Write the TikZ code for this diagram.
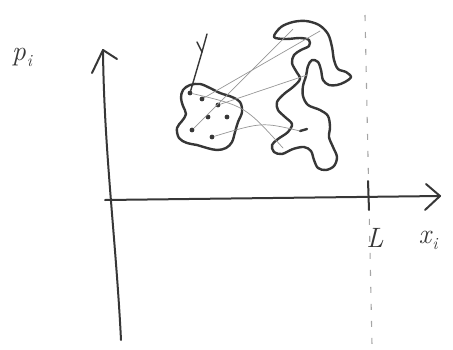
\documentclass[tikz,border=0pt]{standalone}
\usepackage{fontspec}
\definecolor{inkc}{RGB}{55,55,55}
\definecolor{trajc}{RGB}{150,150,150}
\definecolor{dashc}{RGB}{165,165,165}
\newcommand{\subidx}[1]{\raisebox{-6pt}{\fontsize{17}{17}\selectfont #1}}
\begin{document}
\begin{tikzpicture}[x=1pt,y=-1pt,
  ink/.style={draw=inkc, line width=2.4pt, line cap=round, line join=round},
  axisline/.style={draw=inkc, line width=2pt, line cap=round, line join=round},
  traj/.style={draw=trajc, line width=0.7pt, line cap=round},
  dotn/.style={circle, fill=inkc, inner sep=0pt, minimum size=4.8pt},
  lbl/.style={text=inkc, inner sep=0pt, font=\fontsize{28}{28}\selectfont\itshape},
]
\useasboundingbox (0,0) rectangle (453,349);

% dashed line at L
\coordinate (dl0) at (365,15);
\coordinate (dl1) at (372,345);
\draw[dashc, line width=1.1pt, dash pattern=on 6pt off 11pt] (dl0) -- (dl1);

% axes
\coordinate (v0) at (121,340);
\coordinate (v1) at (103,50);
\coordinate (vb1) at (92,73);
\coordinate (vb2) at (117,59);
\draw[axisline] (v0) .. controls (116,240) and (104,150) .. (v1);
\draw[axisline] (vb1) -- (v1) -- (vb2);

\coordinate (h0) at (105,200);
\coordinate (h1) at (440,196);
\coordinate (hb1) at (426,184);
\coordinate (hb2) at (425,210);
\draw[axisline] (h0) -- (h1);
\draw[axisline] (hb1) -- (h1) -- (hb2);

\coordinate (t0) at (368,181);
\coordinate (t1) at (369,210);
\draw[axisline] (t0) -- (t1);

% labels
\node[lbl] (pl) at (22,57) {p\kern1pt\subidx{i}};
\node[lbl] (ll) at (375,238) {L};
\node[lbl] (xl) at (428,240) {x\kern1pt\subidx{i}};

% small blob
\draw[ink] plot[smooth cycle, tension=0.6] coordinates {
  (183,90) (190,85) (200,84) (210,88) (220,93) (232,97) (240,102)
  (242,112) (238,122) (235,132) (232,142) (226,148) (217,150)
  (207,148) (197,145) (187,143) (179,138) (177,128) (182,121)
  (186,114) (183,106) (181,98)};

% large stretched blob
\draw[ink] plot[smooth cycle, tension=0.55] coordinates {
  (274,37) (281,27) (293,22) (306,21) (319,25) (328,34) (332,47)
  (334,60) (338,69) (346,72) (351,77) (345,82) (337,85) (329,85)
  (323,80) (321,70) (318,62) (312,60) (308,66) (306,76) (303,86)
  (303,96) (308,105) (320,110) (328,116) (330,127) (329,137)
  (333,147) (337,157) (334,166) (326,170) (318,168) (314,160)
  (311,151) (304,147) (293,149) (282,154) (274,152) (272,145)
  (278,139) (288,132) (292,124) (285,117) (278,110) (277,102)
  (284,94) (293,87) (300,79) (296,71) (292,63) (294,55) (301,50)
  (309,46) (309,40) (300,38) (286,39)};

% points in the small blob
\node[dotn] (d1) at (190,93) {};
\node[dotn] (d2) at (202,99) {};
\node[dotn] (d3) at (218,105) {};
\node[dotn] (d4) at (208,117) {};
\node[dotn] (d5) at (227,117) {};
\node[dotn] (d6) at (192,130) {};
\node[dotn] (d7) at (212,137) {};

% image point in the large blob
\coordinate (m0) at (300,131);
\coordinate (m1) at (307,129);
\draw[ink] (m0) -- (m1);

% trajectories
\coordinate (e1) at (320,31);
\coordinate (e2) at (293,29);
\coordinate (e3) at (307,75);
\coordinate (e4) at (283,148);
\draw[traj] (d2) -- (e1);
\draw[traj] (d6) -- (e2);
\draw[traj] (d3) -- (e3);
\draw[traj] (d1) .. controls (245,106) .. (e4);
\draw[traj] (d7) .. controls (262,122) .. (m0);

% arrow above the small blob
\coordinate (a0) at (202,52);
\coordinate (ab1) at (197,42);
\coordinate (ab2) at (207,34);
\draw[ink, line width=1.4pt] (d1) -- (a0);
\draw[ink, line width=1.4pt] (ab1) -- (a0) -- (ab2);
\end{tikzpicture}
\end{document}
